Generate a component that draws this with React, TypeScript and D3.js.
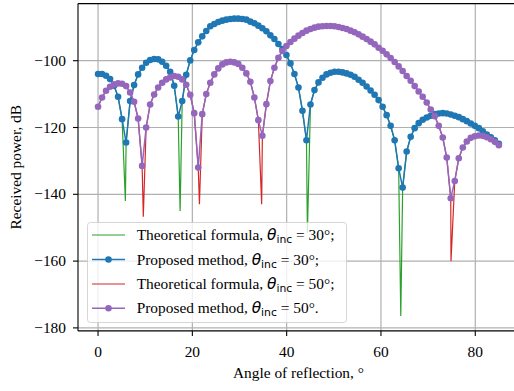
import React from 'react';
import * as d3 from 'd3';

// Sampling step of the proposed-method points (degrees), first point at 0°
const ANGLE_STEP = 0.85;

// Proposed method, θinc = 30° (dB)
const PROPOSED_30 = [
  -104, -104, -104.5, -105.5, -107.5, -110.8, -117.5, -124.5, -112.1, -107.3,
  -104.1, -102.1, -100.6, -99.8, -99.5, -99.6, -100.3, -101.5, -103.3, -107.5,
  -116.7, -112.1, -104.2, -99.9, -96.8, -94.5, -92.7, -91.1, -89.7, -89.0,
  -88.4, -88.0, -87.7, -87.5, -87.4, -87.4, -87.5, -87.7, -88.3, -88.8,
  -89.5, -90.3, -91.2, -92.4, -93.5, -95.0, -96.5, -98.3, -100.8, -104.0,
  -108.0, -115.0, -123.8, -113.1, -108.8, -106.5, -105.1, -104.1, -103.6, -103.3,
  -103.3, -103.5, -103.8, -104.2, -104.8, -105.7, -106.6, -107.7, -108.9, -110.2,
  -111.8, -113.8, -116.3, -119.5, -123.8, -132.2, -138.0, -127.2, -122.8, -120.2,
  -118.7, -117.7, -117.0, -116.5, -116.0, -115.8, -115.7, -115.8, -116.1, -116.5,
  -116.9, -117.5, -118.1, -118.8, -119.5, -120.2, -121.1, -122.1, -122.9, -123.8,
  -124.9,
];

// Proposed method, θinc = 50° (dB)
const PROPOSED_50 = [
  -113.8, -111, -109, -107.8, -107.1, -106.8, -106.9, -107.6, -109.5, -112.3,
  -117.3, -131.5, -120, -113.1, -110.1, -108, -106.6, -105.6, -105, -104.6,
  -104.8, -105.6, -107.2, -110.2, -115.7, -132, -116, -110, -106.6, -104.1,
  -102.3, -101.1, -100.5, -100.3, -100.5, -101, -102.1, -103.8, -106.3, -111,
  -117.8, -122.5, -113, -106.1, -102.1, -99.1, -97.1, -95.6, -94.4, -93.4,
  -92.5, -91.7, -91.0, -90.5, -90.1, -89.8, -89.7, -89.6, -89.6, -89.7,
  -89.9, -90.2, -90.5, -91.0, -91.5, -92.1, -92.8, -93.5, -94.3, -95.1,
  -96.1, -97.0, -98.1, -99.2, -100.4, -101.7, -103.1, -104.6, -106.0, -107.6,
  -109.2, -110.8, -112.5, -114.6, -116.6, -119.5, -123.0, -129.0, -141.2, -136.0,
  -129.2, -126.0, -124.2, -123.1, -122.6, -122.4, -122.5, -122.9, -123.5, -124.3,
  -125.3,
];

// Theoretical formula: agrees with the proposed points, plus the deep notches
const NOTCH_30_ANGLES = [5.8, 17.4, 44.4, 64.2];
const NOTCH_30_DB = [-142, -145, -151.5, -176.4];
const NOTCH_50_ANGLES = [9.6, 21.5, 34.7, 74.85];
const NOTCH_50_DB = [-146.7, -143, -143, -160];

const X_TICKS = [0, 20, 40, 60, 80];
const Y_TICKS = [-180, -160, -140, -120, -100];

const C_GREEN = '#2ca02c';
const C_BLUE = '#1f77b4';
const C_RED = '#d62728';
const C_PURPLE = '#9467bd';

const W = 514;
const H = 391;
const L = 78;
const T = 3.6;
const R = 518.9;
const B = 330.9;

const SERIF = '"Liberation Serif", "Times New Roman", Times, serif';
const SANS = '"DejaVu Sans", sans-serif';
const FS = 15.4;
const MR = 3.3;

type Pt = [number, number];

function toPoints(vals: number[]): Pt[] {
  return vals.map((v, i) => [i * ANGLE_STEP, v] as Pt);
}

function withNotches(vals: number[], angles: number[], dbs: number[]): Pt[] {
  const pts = toPoints(vals).concat(angles.map((a, i) => [a, dbs[i]] as Pt));
  return pts.sort((a, b) => a[0] - b[0]);
}

const serifStyle = { fontFamily: SERIF, fontSize: FS };

export default function App() {
  const x = d3.scaleLinear().domain([-4.25, 89.25]).range([L, R]);
  const y = d3.scaleLinear().domain([-180.9, -82.9]).range([B, T]);
  const line = d3
    .line<Pt>()
    .x((d) => x(d[0]))
    .y((d) => y(d[1]));

  const p30 = toPoints(PROPOSED_30);
  const p50 = toPoints(PROPOSED_50);
  const t30 = withNotches(PROPOSED_30, NOTCH_30_ANGLES, NOTCH_30_DB);
  const t50 = withNotches(PROPOSED_50, NOTCH_50_ANGLES, NOTCH_50_DB);

  const legendRows = [
    { label: 'Theoretical formula, ', val: ' = 30°;', color: C_GREEN, marker: false },
    { label: 'Proposed method, ', val: ' = 30°;', color: C_BLUE, marker: true },
    { label: 'Theoretical formula, ', val: ' = 50°;', color: C_RED, marker: false },
    { label: 'Proposed method, ', val: ' = 50°.', color: C_PURPLE, marker: true },
  ];
  const rowY = [235, 259.5, 284, 308.3];

  return (
    <svg
      width={W}
      height={H}
      style={{ position: 'absolute', left: 0, top: 0, background: '#fff' }}
    >
      <defs>
        <clipPath id="plotclip">
          <rect x={L} y={T} width={R - L} height={B - T} />
        </clipPath>
      </defs>
      <rect x={0} y={0} width={W} height={H} fill="#fff" />

      {/* grid */}
      <g stroke="#b0b0b0" strokeWidth={1.2}>
        {X_TICKS.map((t) => (
          <line key={'gx' + t} x1={x(t)} x2={x(t)} y1={T} y2={B} />
        ))}
        {Y_TICKS.map((t) => (
          <line key={'gy' + t} x1={L} x2={R} y1={y(t)} y2={y(t)} />
        ))}
      </g>

      {/* series */}
      <g clipPath="url(#plotclip)">
        <path d={line(t30) || ''} fill="none" stroke={C_GREEN} strokeWidth={1.2} />
        <path d={line(p30) || ''} fill="none" stroke={C_BLUE} strokeWidth={1.5} />
        {p30.map((d, i) => (
          <circle key={'b' + i} cx={x(d[0])} cy={y(d[1])} r={MR} fill={C_BLUE} />
        ))}
        <path d={line(t50) || ''} fill="none" stroke={C_RED} strokeWidth={1.2} />
        <path d={line(p50) || ''} fill="none" stroke={C_PURPLE} strokeWidth={1.5} />
        {p50.map((d, i) => (
          <circle key={'p' + i} cx={x(d[0])} cy={y(d[1])} r={MR} fill={C_PURPLE} />
        ))}
      </g>

      {/* spines */}
      <g stroke="#000" strokeWidth={1.1} fill="none">
        <line x1={L} x2={L} y1={T} y2={B} />
        <line x1={L} x2={R} y1={B} y2={B} />
        <line x1={L} x2={R} y1={T} y2={T} />
        <line x1={R} x2={R} y1={T} y2={B} />
      </g>

      {/* ticks */}
      <g stroke="#000" strokeWidth={1.1}>
        {X_TICKS.map((t) => (
          <line key={'tx' + t} x1={x(t)} x2={x(t)} y1={B} y2={B + 5} />
        ))}
        {Y_TICKS.map((t) => (
          <line key={'ty' + t} x1={L - 5} x2={L} y1={y(t)} y2={y(t)} />
        ))}
      </g>
      {X_TICKS.map((t) => (
        <text key={'lx' + t} x={x(t)} y={356.5} textAnchor="middle" fill="#000" style={serifStyle}>
          {String(t)}
        </text>
      ))}
      {Y_TICKS.map((t) => (
        <text key={'ly' + t} x={66} y={y(t) + 5} textAnchor="end" fill="#000" style={serifStyle}>
          {t < 0 ? '\u2212' + Math.abs(t) : String(t)}
        </text>
      ))}
      <text x={(L + R) / 2} y={378} textAnchor="middle" fill="#000" style={serifStyle}>
        Angle of reflection, °
      </text>
      <text
        transform={`translate(20.5,${(T + B) / 2}) rotate(-90)`}
        textAnchor="middle"
        fill="#000"
        style={serifStyle}
      >
        Received power, dB
      </text>

      {/* legend */}
      <rect
        x={87.5}
        y={222.5}
        width={259}
        height={100}
        rx={3}
        fill="#fff"
        fillOpacity={0.8}
        stroke="#cccccc"
        strokeOpacity={0.8}
        strokeWidth={1}
      />
      {legendRows.map((r, i) => (
        <g key={'lg' + i}>
          <line
            x1={92}
            x2={125}
            y1={rowY[i]}
            y2={rowY[i]}
            stroke={r.color}
            strokeWidth={r.marker ? 1.5 : 1.2}
          />
          {r.marker && <circle cx={108.5} cy={rowY[i]} r={MR} fill={r.color} />}
          <text x={136.7} y={rowY[i] + 5} fill="#000" style={serifStyle}>
            <tspan>{r.label}</tspan>
            <tspan style={{ fontFamily: SANS, fontStyle: 'italic' }}>θ</tspan>
            <tspan style={{ fontFamily: SANS, fontSize: 10.8 }} dy={3}>
              inc
            </tspan>
            <tspan dy={-3}>{r.val}</tspan>
          </text>
        </g>
      ))}
    </svg>
  );
}
